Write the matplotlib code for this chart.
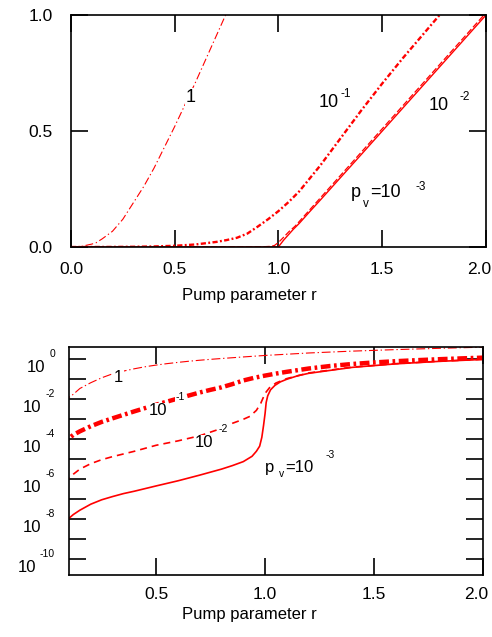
import matplotlib
matplotlib.use('Agg')
import matplotlib.pyplot as plt
from matplotlib.ticker import NullLocator
from matplotlib.transforms import offset_copy, ScaledTranslation

plt.rcParams['font.family'] = ['Liberation Sans Narrow', 'Liberation Sans', 'DejaVu Sans']

RED = '#ff0000'

# photon number vs pump parameter r, one curve per p_v
# p_v = 1
r_pv1 = [0.0, 0.05, 0.1, 0.12, 0.15, 0.2, 0.25, 0.3, 0.35, 0.4, 0.45, 0.5, 0.55, 0.6,
         0.65, 0.7, 0.75, 0.8, 0.9, 1.0, 1.2, 1.4, 1.6, 1.8, 2.0]
n_pv1 = [3e-4, 3e-3, 0.0126, 0.018, 0.035, 0.068, 0.12, 0.19, 0.26, 0.34, 0.43, 0.52,
         0.615, 0.71, 0.81, 0.91, 1.01, 1.11, 1.33, 1.58, 2.1, 2.6, 3.1, 3.6, 4.1]

# p_v = 1e-1
r_pv2 = [0.0, 0.05, 0.1, 0.12, 0.15, 0.2, 0.25, 0.3, 0.4, 0.5, 0.6, 0.7, 0.75, 0.8,
         0.85, 0.9, 0.95, 1.0, 1.05, 1.1, 1.2, 1.3, 1.4, 1.5, 1.6, 1.7, 1.8, 1.9, 2.0]
n_pv2 = [1e-5, 4e-5, 1.12e-4, 1.66e-4, 2.5e-4, 4.5e-4, 7.4e-4, 1.12e-3, 2.5e-3, 5.4e-3,
         1.1e-2, 2.2e-2, 0.03, 0.04, 0.058, 0.088, 0.12, 0.155, 0.195, 0.24, 0.35, 0.47,
         0.59, 0.705, 0.815, 0.92, 1.025, 1.125, 1.225]

# p_v = 1e-2
r_pv3 = [0.0, 0.05, 0.1, 0.12, 0.15, 0.2, 0.25, 0.3, 0.4, 0.5, 0.6, 0.7, 0.8, 0.85,
         0.9, 0.93, 0.96, 0.98, 1.0, 1.02, 1.05, 1.08, 1.1, 1.2, 1.4, 1.6, 1.8, 2.0]
n_pv3 = [1e-7, 3e-7, 1.12e-6, 1.78e-6, 3.2e-6, 6e-6, 9.5e-6, 1.35e-5, 2.5e-5, 5e-5,
         8.3e-5, 1.5e-4, 3.5e-4, 6.3e-4, 1e-3, 1.4e-3, 2.8e-3, 6.3e-3, 0.02, 0.038,
         0.066, 0.09, 0.11, 0.21, 0.41, 0.61, 0.81, 1.01]

# p_v = 1e-3
r_pv4 = [0.0, 0.05, 0.1, 0.12, 0.15, 0.2, 0.25, 0.3, 0.35, 0.4, 0.5, 0.6, 0.7, 0.8,
         0.85, 0.9, 0.94, 0.96, 0.975, 0.985, 0.993, 1.0, 1.005, 1.012, 1.025, 1.045,
         1.07, 1.1, 1.15, 1.2, 1.4, 1.6, 1.8, 2.0]
n_pv4 = [1e-9, 3e-9, 1.1e-8, 1.7e-8, 2.8e-8, 5.6e-8, 9.3e-8, 1.35e-7, 1.9e-7, 2.5e-7,
         4.6e-7, 8.3e-7, 1.6e-6, 3.2e-6, 4.8e-6, 7.6e-6, 1.4e-5, 2.5e-5, 4.5e-5, 1.25e-4,
         5e-4, 2e-3, 7e-3, 1.5e-2, 3e-2, 5e-2, 7.5e-2, 0.102, 0.152, 0.201, 0.40, 0.60,
         0.80, 1.0]

lin_xticks = [0.0, 0.5, 1.0, 1.5, 2.0]
lin_yticks = [0.0, 0.5, 1.0]
log_xticks = [0.5, 1.0, 1.5, 2.0]
log_exps = list(range(-10, 1))

TICK_FS = 12.5

fig = plt.figure(figsize=(4.92, 6.37), dpi=100)
ax1 = fig.add_axes([0.1443, 0.6122, 0.8435, 0.3642])
ax2 = fig.add_axes([0.1402, 0.0973, 0.8415, 0.3579])


def style_axes(ax):
    for sp in ax.spines.values():
        sp.set_linewidth(1.2)
    ax.tick_params(which='both', direction='in', top=True, right=True,
                   length=12, width=1.2, labelsize=TICK_FS)


def label(ax, x, y, pieces):
    # pieces: (text, fontsize, gap px after previous piece, dy px)
    box = dict(facecolor='white', edgecolor='none', pad=0.5)
    first = prev = None
    for text, size, gap, dy in pieces:
        if first is None:
            t = ax.text(x, y, text, fontsize=size, ha='left', va='baseline',
                        bbox=box, zorder=5)
            first = t
        else:
            t = ax.annotate(text, xy=(1, 0), xycoords=(prev, first),
                            xytext=(gap, dy), textcoords='offset pixels',
                            fontsize=size, ha='left', va='bottom', bbox=box, zorder=5)
        prev = t


def nudge_last_xlabel(ax, dx):
    lab = ax.get_xticklabels()[-1]
    lab.set_transform(lab.get_transform() + ScaledTranslation(dx / 72, 0, fig.dpi_scale_trans))


# ---- top panel, linear
ax1.plot(r_pv4, n_pv4, color=RED, lw=1.0)
ax1.plot(r_pv3, n_pv3, color=RED, lw=0.9, dashes=(5, 2))
ax1.plot(r_pv2, n_pv2, color=RED, lw=1.7, dashes=(2.2, 1, 0.8, 1))
ax1.plot(r_pv1, n_pv1, color=RED, lw=0.8, dashes=(7, 2.5, 1.2, 2.5))
ax1.set_xlim(0, 2)
ax1.set_ylim(0, 1)
ax1.set_xticks(lin_xticks)
ax1.set_yticks(lin_yticks)
ax1.set_xticklabels([f'{v:.1f}' for v in lin_xticks])
ax1.set_yticklabels([f'{v:.1f}' for v in lin_yticks])
style_axes(ax1)
ax1.tick_params(axis='x', pad=10.5)
ax1.tick_params(axis='y', pad=13)
nudge_last_xlabel(ax1, -5)
ax1.set_xlabel('Pump parameter r', fontsize=12, va='top')
ax1.xaxis.set_label_coords(0.431, -0.177)

label(ax1, 0.551, 0.625, [('1', 13, 0, 0)])
label(ax1, 1.193, 0.603, [('10', 13, 0, 0), ('-1', 8.5, 2, 11)])
label(ax1, 1.725, 0.591, [('10', 13, 0, 0), ('-2', 8.5, 10, 11)])
label(ax1, 1.348, 0.2155, [('p', 13, 0, 0), ('v', 8.5, 2, -9),
                           ('=10', 13, 2, 0), ('-3', 8.5, 14, 8)])

# ---- bottom panel, log
ax2.plot(r_pv4, n_pv4, color=RED, lw=1.2)
ax2.plot(r_pv3, n_pv3, color=RED, lw=1.2, dashes=(4.2, 3))
ax2.plot(r_pv2, n_pv2, color=RED, lw=3.2, dashes=(2.2, 0.8, 0.6, 0.8))
ax2.plot(r_pv1, n_pv1, color=RED, lw=0.8, dashes=(8, 2.5, 1.2, 2.5))
ax2.set_yscale('log')
ax2.set_xlim(0.1, 2.0)
ax2.set_ylim(10 ** -10.8, 10 ** 0.62)
ax2.set_xticks(log_xticks)
ax2.set_xticklabels([f'{v:.1f}' for v in log_xticks])
ax2.set_yticks([10.0 ** e for e in log_exps])
ax2.set_yticklabels([])
ax2.yaxis.set_minor_locator(NullLocator())
style_axes(ax2)
ax2.tick_params(axis='x', pad=8.5)
nudge_last_xlabel(ax2, -5)
ax2.set_xlabel('Pump parameter r', fontsize=12, va='top')
ax2.xaxis.set_label_coords(0.435, -0.140)

# "10 ^e" tick labels at even decades
for e in log_exps[::2]:
    tr = offset_copy(ax2.get_yaxis_transform(), fig=fig, x=-14, y=0, units='dots')
    et = ax2.text(0, 10.0 ** e, str(e), transform=tr, fontsize=7.5,
                  ha='right', va='bottom')
    ax2.annotate('10', xy=(0, 0), xycoords=et, xytext=(-4, -1),
                 textcoords='offset pixels', fontsize=12, ha='right', va='top')

label(ax2, 0.307, 10 ** -1.15, [('1', 12, 0, 0)])
label(ax2, 0.468, 10 ** -2.8, [('10', 12, 0, 0), ('-1', 7.5, 8, 16)])
label(ax2, 0.675, 10 ** -4.4, [('10', 12, 0, 0), ('-2', 7.5, 6, 16)])
label(ax2, 0.997, 10 ** -5.65, [('p', 12, 0, 0), ('v', 7.5, 5, -4),
                                ('=10', 12, 1, 0), ('-3', 7.5, 12, 15)])

fig.savefig('out.png', dpi=100)
